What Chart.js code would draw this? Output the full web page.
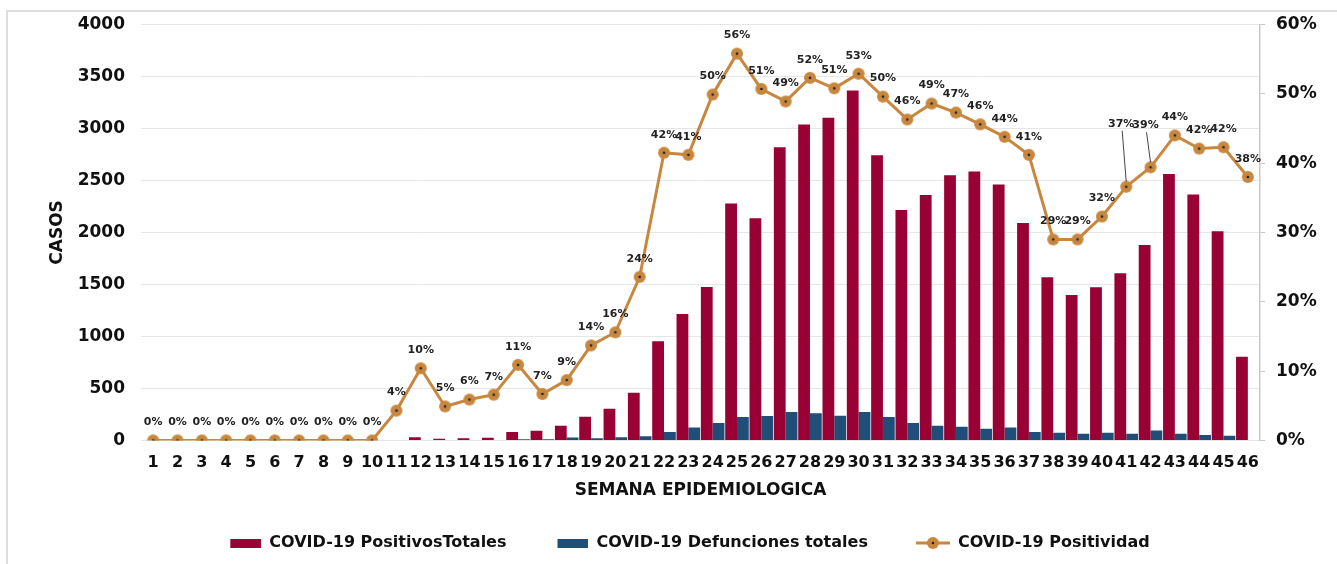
<!DOCTYPE html>
<html>
<head>
<meta charset="utf-8">
<script src="https://cdn.jsdelivr.net/npm/chart.js@4.4.0/dist/chart.umd.min.js"></script>
<style>
  html, body { margin: 0; padding: 0; background: #fff; }
  #frame { position: absolute; left: 6px; top: 10px; width: 1400px; height: 600px;
           border-top: 2px solid #dcdcdc; border-left: 2px solid #dcdcdc; }
  #wrap { position: absolute; left: 0; top: 0; width: 1337px; height: 564px; }
</style>
</head>
<body>
<div id="frame"></div>
<div id="wrap"><canvas id="chart" width="1337" height="564"></canvas></div>
<script>
var weeks = [];
for (var i = 1; i <= 46; i++) weeks.push(String(i));

var positivos = [0, 0, 0, 0, 0, 0, 0, 0, 0, 0,
    0, 30, 15, 20, 25, 80, 93, 141, 228, 305,
    459, 953, 1216, 1475, 2278, 2137, 2820, 3038, 3102, 3366,
    2743, 2217, 2361, 2551, 2586, 2461, 2092, 1569, 1399, 1473,
    1607, 1880, 2563, 2365, 2012, 805];

var defunciones = [0, 0, 0, 0, 0, 0, 0, 0, 0, 0,
    0, 3, 3, 4, 5, 10, 12, 29, 20, 30,
    41, 80, 125, 167, 224, 234, 272, 260, 237, 272,
    224, 167, 141, 132, 112, 125, 80, 74, 64, 74,
    64, 96, 64, 51, 45, 0];

var positividad = [0, 0, 0, 0, 0, 0, 0, 0, 0, 0,
    4.3, 10.4, 4.9, 5.9, 6.6, 10.9, 6.7, 8.7, 13.7, 15.6,
    23.6, 41.5, 41.2, 49.9, 55.8, 50.7, 48.9, 52.3, 50.8, 52.9,
    49.6, 46.3, 48.6, 47.3, 45.6, 43.8, 41.2, 29.0, 29.0, 32.3,
    36.6, 39.4, 44.0, 42.1, 42.3, 38.0];

var leftTicks = [0, 500, 1000, 1500, 2000, 2500, 3000, 3500, 4000];
var rightTicks = [0, 10, 20, 30, 40, 50, 60];

var RED = '#990033';
var BLUE = '#1f4e79';
var GOLD = '#c8873e';
var FONT = "'DejaVu Sans', sans-serif";

function markerImage(w) {
    var c = document.createElement('canvas');
    c.width = w; c.height = 14;
    var x = c.getContext('2d');
    var x0 = w > 14 ? w - 34 : 0;
    var cx = x0 + (w > 14 ? 17 : 7);
    if (w > 14) {
        x.strokeStyle = GOLD; x.lineWidth = 3;
        x.beginPath(); x.moveTo(x0, 7); x.lineTo(w, 7); x.stroke();
    }
    x.fillStyle = GOLD;
    x.beginPath(); x.arc(cx, 7, 6, 0, Math.PI * 2); x.fill();
    x.fillStyle = '#222';
    x.beginPath(); x.arc(cx, 7, 1.3, 0, Math.PI * 2); x.fill();
    return c;
}
function boxImage(color) {
    var c = document.createElement('canvas');
    c.width = 48; c.height = 9;
    var x = c.getContext('2d');
    x.fillStyle = color; x.fillRect(17, 0, 31, 9);
    return c;
}

var pointImg = markerImage(14);
var legendImgs = [boxImage(RED), boxImage(BLUE), markerImage(48)];

// labels above each point; a couple use a callout line
var raised = { 40: 63, 41: 42 };
var pctLabels = {
    id: 'pctLabels',
    afterDatasetsDraw: function (chart) {
        var meta = chart.getDatasetMeta(2);
        var ctx = chart.ctx;
        ctx.save();
        ctx.font = 'bold 11px ' + FONT;
        ctx.fillStyle = '#222';
        ctx.textAlign = 'center';
        ctx.textBaseline = 'middle';
        meta.data.forEach(function (pt, i) {
            var up = raised[i] || 18;
            var ly = pt.y - up;
            var lx = pt.x - (raised[i] ? 5 : 0);
            if (raised[i]) {
                ctx.strokeStyle = '#444';
                ctx.lineWidth = 1;
                ctx.beginPath();
                ctx.moveTo(lx + 1, ly + 7);
                ctx.lineTo(pt.x, pt.y - 5);
                ctx.stroke();
            }
            ctx.fillText(Math.round(positividad[i]) + '%', lx, ly);
        });
        ctx.restore();
    }
};

var ctx = document.getElementById('chart').getContext('2d');
var chart = new Chart(ctx, {
    type: 'bar',
    data: {
        labels: weeks,
        datasets: [
            {
                label: 'COVID-19 PositivosTotales',
                data: positivos,
                backgroundColor: RED,
                yAxisID: 'y',
                order: 2,
                categoryPercentage: 0.97,
                barPercentage: 1.0
            },
            {
                label: 'COVID-19 Defunciones totales',
                data: defunciones,
                backgroundColor: BLUE,
                yAxisID: 'y',
                order: 2,
                categoryPercentage: 0.97,
                barPercentage: 1.0
            },
            {
                type: 'line',
                label: 'COVID-19 Positividad',
                data: positividad,
                borderColor: GOLD,
                borderWidth: 3,
                pointStyle: pointImg,
                yAxisID: 'y1',
                order: 1,
                tension: 0
            }
        ]
    },
    options: {
        responsive: false,
        animation: false,
        layout: { padding: { left: 40, right: 14, top: 22, bottom: 3 } },
        scales: {
            x: {
                grid: { display: false, drawTicks: false },
                border: { display: false },
                ticks: {
                    autoSkip: false, maxRotation: 0, padding: 13,
                    color: '#111', font: { family: FONT, size: 16, weight: 'bold' }
                },
                title: {
                    display: true, text: 'SEMANA EPIDEMIOLOGICA', color: '#111',
                    font: { family: FONT, size: 17, weight: 'bold' },
                    padding: { top: -5, bottom: 0 }
                }
            },
            y: {
                position: 'left',
                min: 0, max: 4000,
                afterBuildTicks: function (axis) {
                    axis.ticks = leftTicks.map(function (v) { return { value: v }; });
                },
                afterFit: function (axis) { axis.width = 101; },
                grid: { color: '#e6e6e6', drawTicks: false },
                border: { display: false },
                ticks: {
                    padding: 16, color: '#111',
                    font: { family: FONT, size: 17, weight: 'bold', lineHeight: 1 },
                    callback: function (v) { return String(v); }
                },
                title: {
                    display: true, text: 'CASOS', color: '#111',
                    font: { family: FONT, size: 17, weight: 'bold' },
                    padding: { top: 7, bottom: 0 }
                }
            },
            y1: {
                position: 'right',
                min: 0, max: 60,
                afterBuildTicks: function (axis) {
                    axis.ticks = rightTicks.map(function (v) { return { value: v }; });
                },
                afterFit: function (axis) { axis.width = 63; },
                grid: { drawOnChartArea: false, tickLength: 5, color: '#c8c8c8' },
                border: { display: true, color: '#c8c8c8', width: 1.5 },
                ticks: {
                    padding: 11, color: '#111',
                    font: { family: FONT, size: 17, weight: 'bold', lineHeight: 1 },
                    callback: function (v) { return v + '%'; }
                }
            }
        },
        plugins: {
            legend: {
                position: 'bottom',
                labels: {
                    usePointStyle: true,
                    pointStyleWidth: 48,
                    padding: 34,
                    color: '#111',
                    font: { family: FONT, size: 16, weight: 'bold' },
                    generateLabels: function (chart) {
                        var items = Chart.defaults.plugins.legend.labels.generateLabels(chart);
                        items.sort(function (a, b) { return a.datasetIndex - b.datasetIndex; });
                        items.forEach(function (it) { it.pointStyle = legendImgs[it.datasetIndex]; });
                        return items;
                    }
                }
            },
            tooltip: { enabled: false }
        }
    },
    plugins: [pctLabels]
});
</script>
</body>
</html>
